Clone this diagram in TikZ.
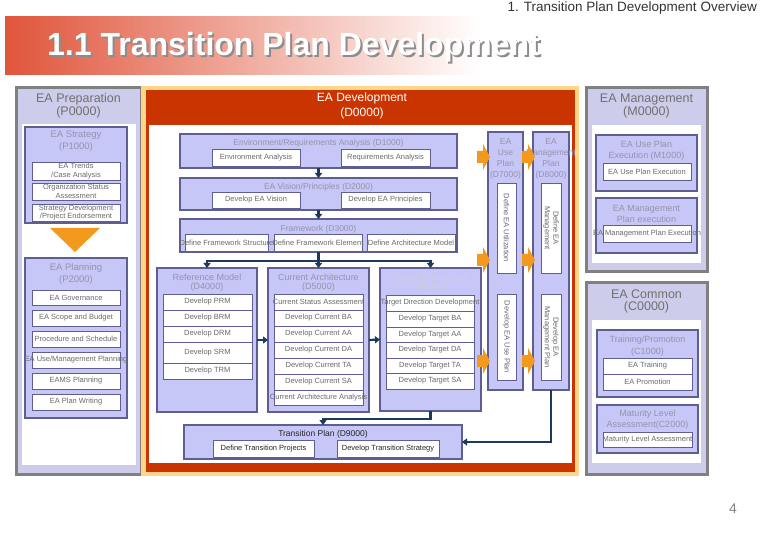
\documentclass[tikz,border=0pt]{standalone}
\usepackage{fontspec}
\setmainfont{Liberation Sans}
\usetikzlibrary{arrows.meta,calc}

\definecolor{bannerred}{HTML}{E0553B}
\definecolor{panelgray}{HTML}{808080}
\definecolor{panellav}{HTML}{CDCDEB}
\definecolor{boxlav}{HTML}{C6C6F7}
\definecolor{boxedge}{HTML}{5E5E92}
\definecolor{devred}{HTML}{C93400}
\definecolor{devorange}{HTML}{FFD58A}
\definecolor{navy}{HTML}{1B3A5C}
\definecolor{arrorange}{HTML}{F39A1E}
\definecolor{subtext}{HTML}{6A6A6A}
\definecolor{titletext}{HTML}{9494AC}
\definecolor{paneltext}{HTML}{707070}

\tikzset{
  panel/.style={draw=panelgray, line width=3pt, fill=panellav},
  ibox/.style={draw=boxedge, line width=2.6pt, fill=boxlav},
  sbox/.style={draw=boxedge, line width=0.7pt, fill=white},
  devouter/.style={fill=devorange, draw=none},
  devinner/.style={fill=devred, draw=none},
  stxt/.style={text=subtext, font=\fontsize{7.5}{8.5}\selectfont, inner sep=0pt, align=center},
  btitle/.style={text=titletext, font=\fontsize{9.5}{11}\selectfont, align=center, inner sep=0pt},
  ptitle/.style={text=paneltext, font=\fontsize{12.5}{12.5}\selectfont, align=center, inner sep=0pt},
  conn/.style={draw=navy, line width=2.2pt, -{Triangle[length=5pt,width=7pt]}},
  blockarrow/.style={fill=arrorange, draw=none}
}

% style, name, x1, y1, x2, y2
\newcommand\rbox[6]{\node[#1,anchor=north west,inner sep=0pt,outer sep=0pt,minimum width={#5pt-#3pt},minimum height={#6pt-#4pt}] (#2) at (#3,#4) {};}
% name, x1, y1, x2, y2, text
\newcommand\sbx[6]{\rbox{sbox}{#1}{#2}{#3}{#4}{#5}\node[stxt] (#1-t) at (#1.center) {#6};}
% x, y (center-left) of an orange block arrow
\newcommand\blockarr[2]{\fill[blockarrow] (#1,#2-6) -- (#1+6,#2-6) -- (#1+6,#2-13) -- (#1+13,#2) -- (#1+6,#2+13) -- (#1+6,#2+6) -- (#1,#2+6) -- cycle;}

\begin{document}
\begin{tikzpicture}[x=1pt,y=-1pt]
\useasboundingbox (0,0) rectangle (766,540);
\fill[white] (0,0) rectangle (766,540);

% header
\node[anchor=north east, inner sep=0pt, font=\fontsize{13.5}{13.5}\selectfont, text=black!80] (hdr) at (757,1.5) {1. Transition Plan Development Overview};
\shade[left color=bannerred, right color=white] (5,17) rectangle (480,75);
\node[anchor=base west, inner sep=0pt, font=\fontsize{32}{32}\selectfont\bfseries, text=black!45] (titleshadow) at (49,58) {1.1 Transition Plan Development};
\node[anchor=base west, inner sep=0pt, font=\fontsize{32}{32}\selectfont\bfseries, text=white] (title) at (47,56) {1.1 Transition Plan Development};

% ---------------- EA Preparation ----------------
\rbox{panel}{prep}{16}{88}{141}{474}
\fill[white] (22,124) rectangle (136,465);
\node[ptitle] (prep-t) at (78.5,106) {EA Preparation\\(P0000)};

\rbox{ibox}{p1}{25}{127}{127}{223}
\node[btitle, font=\fontsize{9.5}{12}\selectfont] (p1-t) at (76,141) {EA Strategy\\(P1000)};
\sbx{p1a}{32}{162}{120}{180}{EA Trends\\/Case Analysis}
\sbx{p1b}{32}{183}{120}{200}{Organization Status\\Assessment}
\sbx{p1c}{32}{204}{120}{221}{Strategy Development\\/Project Endorsement}
\fill[arrorange] (50,228) -- (100,228) -- (75,252) -- cycle;

\rbox{ibox}{p2}{25}{258}{127}{418}
\node[btitle, font=\fontsize{9.5}{12}\selectfont] (p2-t) at (76,274) {EA Planning\\(P2000)};
\sbx{p2a}{32}{290}{120}{305}{EA Governance}
\sbx{p2b}{32}{310}{120}{326}{EA Scope and Budget}
\sbx{p2c}{32}{331}{120}{347}{Procedure and Schedule}
\sbx{p2d}{32}{352}{120}{368}{EA Use/Management Planning}
\sbx{p2e}{32}{373}{120}{389}{EAMS Planning}
\sbx{p2f}{32}{394}{120}{410}{EA Plan Writing}

% ---------------- EA Development ----------------
\rbox{devouter}{devo}{141}{86}{579}{476}
\rbox{devinner}{dev}{146}{90}{575}{472}
\fill[white] (149,125) rectangle (572,463);
\node[text=white, font=\fontsize{12}{15}\selectfont, align=center, inner sep=0pt] (dev-t) at (362,106) {EA Development\\(D0000)};

\rbox{ibox}{d1}{180}{134}{457}{168}
\node[btitle, font=\fontsize{8.5}{10}\selectfont] (d1-t) at (318.5,143) {Environment/Requirements Analysis (D1000)};
\sbx{d1a}{212}{149}{300}{166}{Environment Analysis}
\sbx{d1b}{341}{149}{430}{166}{Requirements Analysis}

\rbox{ibox}{d2}{180}{178}{457}{210}
\node[btitle, font=\fontsize{8.5}{10}\selectfont] (d2-t) at (318.5,187) {EA Vision/Principles (D2000)};
\sbx{d2a}{212}{192}{300}{208}{Develop EA Vision}
\sbx{d2b}{341}{192}{430}{208}{Develop EA Principles}

\rbox{ibox}{d3}{180}{219}{457}{252}
\node[btitle, font=\fontsize{8.5}{10}\selectfont] (d3-t) at (318.5,229) {Framework (D3000)};
\sbx{d3a}{185}{234}{268}{251}{Define Framework Structure}
\sbx{d3b}{274}{234}{362}{251}{Define Framework Element}
\sbx{d3c}{367}{234}{455}{251}{Define Architecture Model}

\rbox{ibox}{d4}{157}{268}{257}{412}
\node[btitle, font=\fontsize{9}{9.5}\selectfont] (d4-t) at (207,282.5) {Reference Model\\(D4000)};
\sbx{d4a}{163}{294}{252}{310}{Develop PRM}
\sbx{d4b}{163}{310}{252}{326}{Develop BRM}
\sbx{d4c}{163}{326}{252}{342}{Develop DRM}
\sbx{d4d}{163}{342}{252}{363}{Develop SRM}
\sbx{d4e}{163}{363}{252}{379}{Develop TRM}

\rbox{ibox}{d5}{268}{268}{369}{412}
\node[btitle, font=\fontsize{9}{9.5}\selectfont] (d5-t) at (318.5,282.5) {Current Architecture\\(D5000)};
\sbx{d5a}{274}{294}{363}{310}{Current Status Assessment}
\sbx{d5b}{274}{310}{363}{326}{Develop Current BA}
\sbx{d5c}{274}{326}{363}{342}{Develop Current AA}
\sbx{d5d}{274}{342}{363}{358}{Develop Current DA}
\sbx{d5e}{274}{358}{363}{374}{Develop Current TA}
\sbx{d5f}{274}{374}{363}{390}{Develop Current SA}
\sbx{d5g}{274}{390}{363}{405}{Current Architecture Analysis}

\rbox{ibox}{d6}{380}{268}{481}{411}
\node[btitle, font=\fontsize{9}{9.5}\selectfont, text=titletext!45] (d6-t) at (430.5,282.5) {Target Architecture\\(D6000)};
\sbx{d6a}{386}{295}{474}{311}{Target Direction Development}
\sbx{d6b}{386}{311}{474}{327}{Develop Target BA}
\sbx{d6c}{386}{327}{474}{342}{Develop Target AA}
\sbx{d6d}{386}{342}{474}{358}{Develop Target DA}
\sbx{d6e}{386}{358}{474}{373}{Develop Target TA}
\sbx{d6f}{386}{373}{474}{389}{Develop Target SA}

\rbox{ibox}{d7}{488}{132}{523}{390}
\node[btitle, font=\fontsize{8.5}{11}\selectfont] (d7-t) at (505.5,158.5) {EA\\Use\\Plan\\(D7000)};
\rbox{sbox}{d7a}{497}{183}{516}{273}
\node[stxt, rotate=-90] (d7a-t) at (d7a.center) {Define EA Utilization};
\rbox{sbox}{d7b}{497}{294}{516}{380}
\node[stxt, rotate=-90] (d7b-t) at (d7b.center) {Develop EA Use Plan};

\rbox{ibox}{d8}{533}{132}{569}{390}
\node[btitle, font=\fontsize{8.5}{11}\selectfont] (d8-t) at (551,158.5) {EA\\Management\\Plan\\(D8000)};
\rbox{sbox}{d8a}{541}{183}{561}{273}
\node[stxt, rotate=-90] (d8a-t) at (d8a.center) {Define EA\\Management};
\rbox{sbox}{d8b}{541}{294}{561}{380}
\node[stxt, rotate=-90] (d8b-t) at (d8b.center) {Develop EA\\Management Plan};

\blockarr{477}{157}
\blockarr{522}{157}
\blockarr{477}{260}
\blockarr{522}{260}
\blockarr{477}{361}
\blockarr{522}{361}

\rbox{ibox}{d9}{184}{425}{462}{459}
\node[btitle, font=\fontsize{8.5}{10}\selectfont, text=black!85] (d9-t) at (323,434) {Transition Plan (D9000)};
\rbox{sbox}{d9a}{213}{440}{314}{457}
\node[stxt, text=black!85] (d9a-t) at (d9a.center) {Define Transition Projects};
\rbox{sbox}{d9b}{337}{440}{439}{457}
\node[stxt, text=black!85] (d9b-t) at (d9b.center) {Develop Transition Strategy};

% connectors
\coordinate (br) at (318.5,261);
\draw[conn] (d1.south) -- (d2.north);
\draw[conn] (d2.south) -- (d3.north);
\draw[draw=navy, line width=2.2pt] (d3.south) -- (br);
\draw[conn] (br) -| (d4.north);
\draw[conn] (br) -- (d5.north);
\draw[conn] (br) -| (d6.north);
\draw[conn] (d4.east) -- (d5.west);
\draw[conn] (d5.east) -- (d6.west);
\draw[conn] (d6.south) -- ++(0,8) -| (d9.north);
\draw[conn] (d8.south) |- (d9.east);

% ---------------- EA Management ----------------
\rbox{panel}{mgmt}{586}{88}{707}{272}
\fill[white] (592,125) rectangle (701,263);
\node[ptitle] (mgmt-t) at (646.5,106) {EA Management\\(M0000)};
\rbox{ibox}{m1}{596}{135}{697}{191}
\node[btitle, font=\fontsize{9}{11}\selectfont] (m1-t) at (646.5,150.5) {EA Use Plan\\Execution (M1000)};
\sbx{m1a}{603}{163}{691}{180}{EA Use Plan Execution}
\rbox{ibox}{m2}{596}{198}{697}{253}
\node[btitle, font=\fontsize{9}{11}\selectfont] (m2-t) at (646.5,213.5) {EA Management\\Plan execution};
\sbx{m2a}{603}{225}{691}{242}{EA Management Plan Execution}

% ---------------- EA Common ----------------
\rbox{panel}{common}{586}{283}{707}{474}
\fill[white] (592,320) rectangle (701,463);
\node[ptitle] (common-t) at (646.5,301.5) {EA Common\\(C0000)};
\rbox{ibox}{c1}{597}{330}{698}{397}
\node[btitle, font=\fontsize{9}{12}\selectfont] (c1-t) at (647.5,346) {Training/Promotion\\(C1000)};
\sbx{c1a}{603}{358}{692}{374}{EA Training}
\sbx{c1b}{603}{374}{692}{390}{EA Promotion}
\rbox{ibox}{c2}{597}{405}{698}{453}
\node[btitle, font=\fontsize{9}{11}\selectfont] (c2-t) at (647.5,419.5) {Maturity Level\\Assessment(C2000)};
\sbx{c2a}{603}{432}{692}{447}{Maturity Level Assessment}

% page number
\node[font=\fontsize{14}{14}\selectfont, text=black!50] (pageno) at (733,509) {4};
\end{tikzpicture}
\end{document}
